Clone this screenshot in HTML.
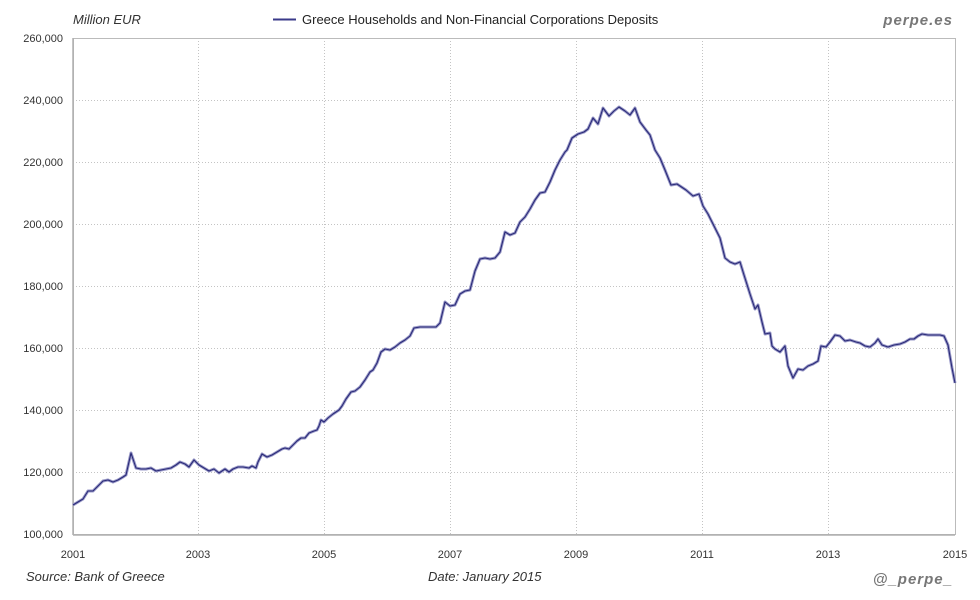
<!DOCTYPE html>
<html><head><meta charset="utf-8"><style>
html,body{margin:0;padding:0;background:#fff;}
svg{display:block;font-family:"Liberation Sans",sans-serif;}
</style></head><body>
<svg width="980" height="600" viewBox="0 0 980 600">
<rect width="980" height="600" fill="#fff"/>
<g stroke="#c4c4c4" stroke-width="1" stroke-dasharray="1,2">
<line x1="73" y1="100.5" x2="955" y2="100.5"/><line x1="73" y1="162.5" x2="955" y2="162.5"/>
<line x1="73" y1="224.5" x2="955" y2="224.5"/><line x1="73" y1="286.5" x2="955" y2="286.5"/>
<line x1="73" y1="348.5" x2="955" y2="348.5"/><line x1="73" y1="410.5" x2="955" y2="410.5"/>
<line x1="73" y1="472.5" x2="955" y2="472.5"/>
<line x1="198.5" y1="38" x2="198.5" y2="535"/><line x1="324.5" y1="38" x2="324.5" y2="535"/>
<line x1="450.5" y1="38" x2="450.5" y2="535"/><line x1="576.5" y1="38" x2="576.5" y2="535"/>
<line x1="702.5" y1="38" x2="702.5" y2="535"/><line x1="828.5" y1="38" x2="828.5" y2="535"/>
</g>
<rect x="73.5" y="38.5" width="882" height="496" fill="none" stroke="#bbb" stroke-width="1"/>
<line x1="73" y1="535" x2="955" y2="535" stroke="#b0b0b0" stroke-width="1.5"/>
<line x1="73" y1="38" x2="73" y2="535" stroke="#b0b0b0" stroke-width="1.5"/>
<g font-size="11" fill="#333" text-anchor="end">
<text x="63" y="42">260,000</text><text x="63" y="104">240,000</text><text x="63" y="166">220,000</text>
<text x="63" y="228">200,000</text><text x="63" y="290">180,000</text><text x="63" y="352">160,000</text>
<text x="63" y="414">140,000</text><text x="63" y="476">120,000</text><text x="63" y="538">100,000</text>
</g>
<g font-size="11" fill="#333" text-anchor="middle">
<text x="73" y="558">2001</text><text x="198" y="558">2003</text><text x="324" y="558">2005</text>
<text x="450" y="558">2007</text><text x="576" y="558">2009</text><text x="702" y="558">2011</text>
<text x="828" y="558">2013</text><text x="955" y="558">2015</text>
</g>
<text x="73" y="24" font-size="13" font-style="italic" fill="#333">Million EUR</text>
<line x1="273" y1="19.5" x2="296" y2="19.5" stroke="#3a3a8a" stroke-width="2"/>
<text x="302" y="24" font-size="13" fill="#222">Greece Households and Non-Financial Corporations Deposits</text>
<text x="953" y="25" font-size="15" font-weight="bold" font-style="italic" fill="#777" text-anchor="end" letter-spacing="1">perpe.es</text>
<text x="26" y="581" font-size="13" font-style="italic" fill="#333">Source: Bank of Greece</text>
<text x="428" y="581" font-size="13" font-style="italic" fill="#333">Date: January 2015</text>
<text x="953" y="584" font-size="15" font-weight="bold" font-style="italic" fill="#777" text-anchor="end" letter-spacing="1">@_perpe_</text>
<polyline fill="none" stroke="#9a9ac8" stroke-width="3" stroke-linejoin="round" points="73,505 78,502 83,499 88,491 93,491 98,486 103,481 108,480 113,482 118,480 123,477 126,475 131,453 136,468 141,469 146,469 151,468 156,471 161,470 166,469 171,468 176,465 180,462 185,464 189,467 194,460 199,465 204,468 209,471 214,469 219,473 225,469 229,472 233,469 238,467 243,467 249,468 252,466 256,468 258,462 262,454 267,457 272,455 277,452 282,449 285,448 289,449 294,444 297,441 301,438 305,438 309,433 314,431 317,430 319,426 321,420 324,422 328,418 333,414 339,410 342,406 346,399 351,392 355,391 360,387 365,380 370,372 373,370 377,363 381,352 385,349 390,350 395,347 400,343 405,340 410,336 414,328 420,327 425,327 430,327 436,327 440,323 445,302 450,306 455,305 460,294 465,291 470,290 475,271 480,259 485,258 490,259 495,258 500,252 505,232 510,235 515,233 520,222 525,217 530,209 535,200 540,193 545,192 550,182 555,170 560,160 565,152 567,150 572,138 578,134 584,132 588,129 593,118 598,124 603,108 609,116 614,111 619,107 625,111 630,115 635,108 640,122 646,130 650,135 655,150 660,158 665,170 671,185 677,184 686,190 693,196 699,194 703,206 708,214 715,228 720,238 725,258 730,262 735,264 740,262 744,275 750,294 755,309 758,305 762,322 765,334 770,333 772,346 775,349 780,352 785,346 788,366 793,378 798,369 803,370 808,366 813,364 818,361 821,346 826,347 830,342 835,335 840,336 845,341 850,340 856,342 860,343 865,346 870,347 875,343 878,339 882,345 888,347 894,345 900,344 905,342 910,339 914,339 918,336 922,334 928,335 935,335 940,335 944,336 948,345 952,368 955,383"/>
<polyline fill="none" stroke="#2a2a78" stroke-width="1.1" stroke-linejoin="round" points="73,505 78,502 83,499 88,491 93,491 98,486 103,481 108,480 113,482 118,480 123,477 126,475 131,453 136,468 141,469 146,469 151,468 156,471 161,470 166,469 171,468 176,465 180,462 185,464 189,467 194,460 199,465 204,468 209,471 214,469 219,473 225,469 229,472 233,469 238,467 243,467 249,468 252,466 256,468 258,462 262,454 267,457 272,455 277,452 282,449 285,448 289,449 294,444 297,441 301,438 305,438 309,433 314,431 317,430 319,426 321,420 324,422 328,418 333,414 339,410 342,406 346,399 351,392 355,391 360,387 365,380 370,372 373,370 377,363 381,352 385,349 390,350 395,347 400,343 405,340 410,336 414,328 420,327 425,327 430,327 436,327 440,323 445,302 450,306 455,305 460,294 465,291 470,290 475,271 480,259 485,258 490,259 495,258 500,252 505,232 510,235 515,233 520,222 525,217 530,209 535,200 540,193 545,192 550,182 555,170 560,160 565,152 567,150 572,138 578,134 584,132 588,129 593,118 598,124 603,108 609,116 614,111 619,107 625,111 630,115 635,108 640,122 646,130 650,135 655,150 660,158 665,170 671,185 677,184 686,190 693,196 699,194 703,206 708,214 715,228 720,238 725,258 730,262 735,264 740,262 744,275 750,294 755,309 758,305 762,322 765,334 770,333 772,346 775,349 780,352 785,346 788,366 793,378 798,369 803,370 808,366 813,364 818,361 821,346 826,347 830,342 835,335 840,336 845,341 850,340 856,342 860,343 865,346 870,347 875,343 878,339 882,345 888,347 894,345 900,344 905,342 910,339 914,339 918,336 922,334 928,335 935,335 940,335 944,336 948,345 952,368 955,383"/>
</svg>
</body></html>
